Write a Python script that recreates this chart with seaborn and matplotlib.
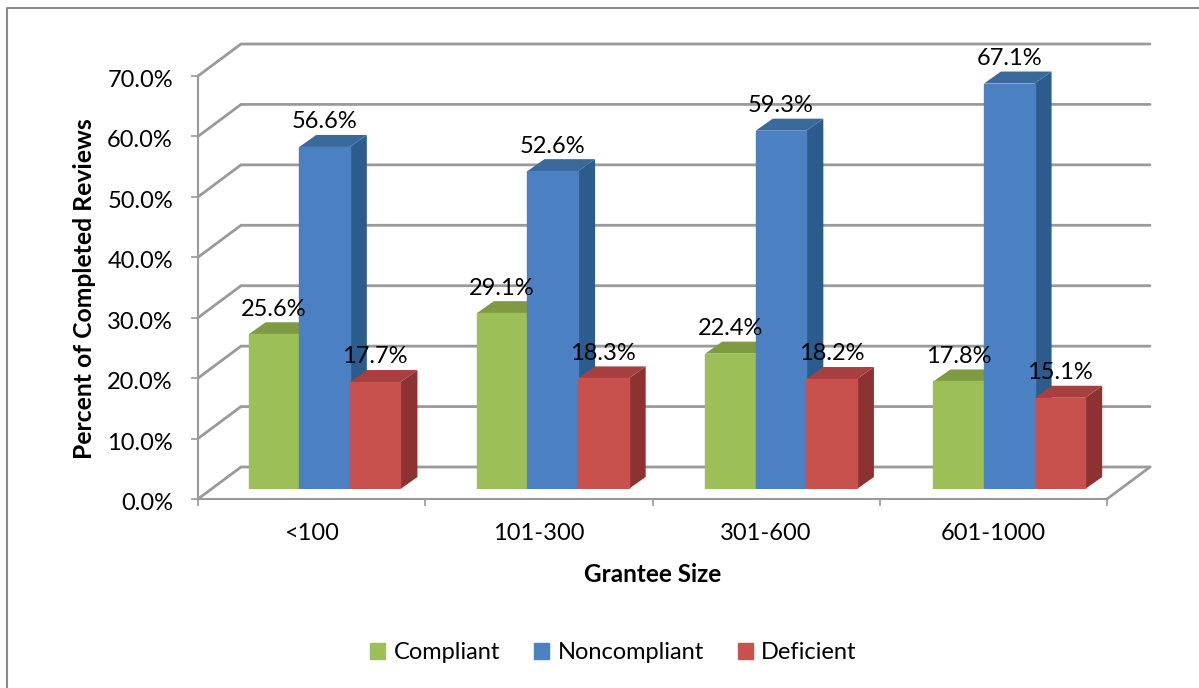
import pandas as pd
import seaborn as sns
import matplotlib.pyplot as plt
from matplotlib.lines import Line2D
from matplotlib.patches import Polygon
from matplotlib.transforms import Affine2D

# values
sizes = ['<100', '101-300', '301-600', '601-1000']
compliant = [25.6, 29.1, 22.4, 17.8]
noncompliant = [56.6, 52.6, 59.3, 67.1]
deficient = [17.7, 18.3, 18.2, 15.1]
y_ticks = [0, 10, 20, 30, 40, 50, 60, 70]

series = ['Compliant', 'Noncompliant', 'Deficient']
front_colors = ['#9DBF58', '#4B80C2', '#C8514E']
top_colors = ['#7E9A42', '#3A6A9C', '#A83F3E']
side_colors = ['#6F8A38', '#2C5C8C', '#8C3331']
GRID = '#9A9A9A'
FONT = 'Lato'
FS = 17

df = pd.DataFrame({'Size': sizes, 'Compliant': compliant,
                   'Noncompliant': noncompliant, 'Deficient': deficient})
df = df.melt(id_vars='Size', var_name='Status', value_name='Percent')

sns.set_theme(style='white')
plt.rcParams['font.family'] = [FONT, 'DejaVu Sans']

W, H = 1199, 688
fig = plt.figure(figsize=(W / 100, H / 100), dpi=100)

# front plane of the fake 3D box, in pixels of the reference
left, right, bottom, top = 198, 1107, 499, 76
pos = [left / W, 1 - bottom / H, (right - left) / W, (bottom - top) / H]
ax = fig.add_axes(pos)
ax.set_xlim(-0.5, 3.5)
ax.set_ylim(0, 70)

px_x = (right - left) / 4
px_y = (bottom - top) / 70

# bars sit a bit inside the box, so they get their own shifted axes
bars_left, bars_width = 210.4, 913
ax_bars = fig.add_axes([bars_left / W, 1 - (bottom - 10) / H, bars_width / W, pos[3]])
ax_bars.patch.set_alpha(0)
sns.barplot(data=df, x='Size', y='Percent', hue='Status', hue_order=series,
            palette=front_colors, saturation=1, width=0.665, gap=0,
            legend=False, ax=ax_bars, zorder=3)
ax_bars.set_xlim(-0.5, 3.5)
ax_bars.set_ylim(0, 70)
ax_bars.set_axis_off()

# back wall and floor
back_x = 43 / px_x
back_y = 32 / px_y
for v in y_ticks:
    ax.plot([-0.5, -0.5 + back_x, 3.5 + back_x], [v, v + back_y, v + back_y],
            color=GRID, lw=2, clip_on=False, zorder=1, solid_joinstyle='miter')
ax.plot([3.5, 3.5 + back_x], [0, back_y], color=GRID, lw=2, clip_on=False, zorder=1)

# side and top faces of each bar
depth_x = 17 / (bars_width / 4)
depth_y = 12 / px_y
for i, container in enumerate(ax_bars.containers):
    for bar in container:
        bar.set_zorder(3 + 2 * i)
        bar.set_edgecolor(front_colors[i])
        x0 = bar.get_x()
        x1 = x0 + bar.get_width()
        h = bar.get_height()
        side = Polygon([(x1, 0), (x1 + depth_x, depth_y), (x1 + depth_x, h + depth_y), (x1, h)],
                       facecolor=side_colors[i], edgecolor='none', clip_on=False, zorder=2 + 2 * i)
        cap = Polygon([(x0, h), (x0 + depth_x, h + depth_y), (x1 + depth_x, h + depth_y), (x1, h)],
                      facecolor=top_colors[i], edgecolor='none', clip_on=False, zorder=2 + 2 * i)
        ax_bars.add_patch(side)
        ax_bars.add_patch(cap)
    labels = ax_bars.bar_label(container, fmt='%.1f%%', padding=10.5, fontsize=FS, color='black')
    for t in labels:
        t.set_zorder(20)

# axis cosmetics
ax.patch.set_alpha(0)
sns.despine(ax=ax)
for name in ['left', 'bottom']:
    ax.spines[name].set_color(GRID)
    ax.spines[name].set_linewidth(1.5)
ax.set_yticks(y_ticks)
ax.set_yticklabels([f'{v:.1f}%' for v in y_ticks], fontsize=FS, color='black')
ax.set_xticks([-0.5, 0.5, 1.5, 2.5, 3.5])
ax.set_xticklabels([])
ax.tick_params(axis='both', length=5, width=1.2, color=GRID, left=True, bottom=True)
ax.tick_params(axis='y', pad=13)
# tick labels sit a little under their ticks in the original
# has to come after tick_params, which resets the label transform
for t in ax.get_yticklabels():
    t.set_transform(t.get_transform() + Affine2D().translate(0, -2.5))
for i, name in enumerate(sizes):
    ax.text(i, -5.7, name, ha='center', va='center', fontsize=FS, color='black')
ax.set_xlabel('Grantee Size', fontsize=17.5, fontweight='bold', color='black')
ax.xaxis.set_label_coords(0.5, -0.151)
ax.set_ylabel('Percent of Completed Reviews', fontsize=17.8, fontweight='bold', color='black')
ax.yaxis.set_label_coords(-0.112, 0.497)

# legend at the bottom
handles = [c[0] for c in ax_bars.containers]
fig.legend(handles, series, loc='center', bbox_to_anchor=(613.5 / W, 1 - 652.5 / H), ncol=3,
           frameon=False, fontsize=FS, handlelength=0.64, handleheight=0.64,
           handletextpad=0.35, columnspacing=1.45, labelcolor='black')

# outer chart frame, only left and top show in the crop
fig.add_artist(Line2D([7 / W, 7 / W, 1], [0, 1 - 8 / H, 1 - 8 / H], color='#8A8A8A', lw=1.5))

fig.savefig('out.png', dpi=100)
